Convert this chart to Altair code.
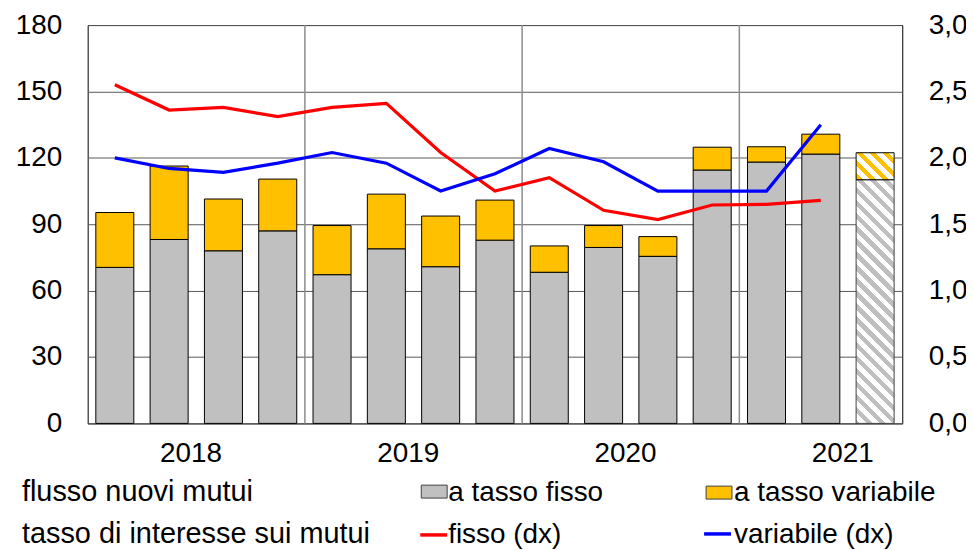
import math
import altair as alt
import pandas as pd

# ---------------- data ----------------
quarters = ["2018Q1", "2018Q2", "2018Q3", "2018Q4",
            "2019Q1", "2019Q2", "2019Q3", "2019Q4",
            "2020Q1", "2020Q2", "2020Q3", "2020Q4",
            "2021Q1", "2021Q2", "2021Q3"]
# flusso nuovi mutui (left axis)
flow_fisso = [70.5, 83.1, 78.0, 87.0, 67.2, 78.9, 70.8, 82.8, 68.3, 79.5, 75.5, 114.5, 118.1, 121.7, 110.1]
flow_variabile = [24.8, 33.2, 23.4, 23.4, 22.2, 24.7, 22.9, 18.1, 11.9, 9.9, 8.9, 10.3, 6.9, 9.0, 12.2]
# last quarter is an estimate (hatched)
estimate_quarters = ["2021Q3"]
# tasso di interesse (right axis)
rate_quarters = quarters[:14]
rate_fisso = [2.55, 2.36, 2.38, 2.31, 2.38, 2.41, 2.04, 1.75, 1.85, 1.605, 1.535, 1.645, 1.65, 1.68]
rate_variabile = [2.00, 1.92, 1.89, 1.96, 2.04, 1.96, 1.75, 1.88, 2.07, 1.97, 1.75, 1.75, 1.75, 2.25]
year_label_quarters = ["2018Q2", "2019Q2", "2020Q2", "2021Q2"]
year_start_quarters = ["2019Q1", "2020Q1", "2021Q1"]
left_ticks = [0, 30, 60, 90, 120, 150, 180]
right_ticks = [0, 0.5, 1.0, 1.5, 2.0, 2.5, 3.0]

# ---------------- layout / style ----------------
W, H = 818, 400
FONT = "Liberation Sans"
FS = 28
GRAY, ORANGE, RED, BLUE = "#C0C0C0", "#FFC000", "#FF0000", "#0000FF"
P_IN, P_OUT = 0.3, 0.15
n = len(quarters)
step = W / (n - P_IN + 2 * P_OUT)
bw = step * (1 - P_IN)
LMAX, RMAX = 180, 3.0

flows = pd.DataFrame({"q": quarters, "fisso": flow_fisso, "variabile": flow_variabile})
flows["totale"] = flows["fisso"] + flows["variabile"]
obs = flows[~flows["q"].isin(estimate_quarters)]
est = flows[flows["q"].isin(estimate_quarters)]
rates = pd.DataFrame({"q": rate_quarters, "fisso": rate_fisso, "variabile": rate_variabile})
years_df = pd.DataFrame({"q": year_start_quarters})


def hatch(color, w, h, period=13.0):
    """Diagonal stripes (top-left to bottom-right) as a hard-stop gradient."""
    half = period / 2
    lam = (w + h) / (w * w + h * h)
    m = math.floor(-h / half)
    cur = color if m % 2 == 0 else "white"
    stops = [alt.GradientStop(color=cur, offset=0)]
    m += 1
    while m * half < w:
        t = (m * half + h) / (w + h)
        stops.append(alt.GradientStop(color=cur, offset=t))
        cur = "white" if cur == color else color
        stops.append(alt.GradientStop(color=cur, offset=t))
        m += 1
    stops.append(alt.GradientStop(color=cur, offset=1))
    return alt.LinearGradient(gradient="linear", stops=stops,
                              x1=0, y1=1, x2=lam * w, y2=1 - lam * h)


xscale = alt.Scale(domain=quarters, paddingInner=P_IN, paddingOuter=P_OUT)
xaxis = alt.Axis(values=year_label_quarters, labelExpr="substring(datum.label, 0, 4)",
                 ticks=False, tickSize=0, domain=False, grid=False, labelAngle=0,
                 labelBaseline="alphabetic", labelPadding=38, labelOffset=22,
                 labelFont=FONT, labelFontSize=FS, labelColor="black")
X = alt.X("q:N", scale=xscale, axis=xaxis, title=None)

laxis = alt.Axis(values=left_ticks, grid=True, gridColor="#595959", gridWidth=1,
                 ticks=False, tickSize=0, domain=False, labelPadding=26,
                 labelFont=FONT, labelFontSize=FS, labelColor="black", labelBaseline="middle")
lscale = alt.Scale(domain=[0, LMAX], nice=False)
raxis = alt.Axis(values=right_ticks, orient="right", grid=False, ticks=False, tickSize=0,
                 domain=False, labelPadding=26, labelFont=FONT, labelFontSize=FS,
                 labelColor="black", labelBaseline="middle",
                 labelExpr="replace(format(datum.value, '.1f'), '.', ',')")
rscale = alt.Scale(domain=[0, RMAX], nice=False)

rules = alt.Chart(years_df).mark_rule(color="#8C8C8C", strokeWidth=1.5, xOffset=-step * P_OUT).encode(
    x=alt.X("q:N", scale=xscale, axis=xaxis, title=None, bandPosition=0)
)

bar_gray = alt.Chart(obs).mark_bar(fill=GRAY, stroke="black", strokeWidth=1).encode(
    x=X, y=alt.Y("fisso:Q", scale=lscale, axis=laxis, title=None)
)
bar_orange = alt.Chart(obs).mark_bar(fill=ORANGE, stroke="black", strokeWidth=1).encode(
    x=X, y=alt.Y("fisso:Q", scale=lscale, axis=laxis, title=None), y2="totale:Q"
)
e = est.iloc[0]
h_gray = e["fisso"] * H / LMAX
h_or = e["variabile"] * H / LMAX
bar_gray_est = alt.Chart(est).mark_bar(fill=hatch("#BFBFBF", bw, h_gray), stroke="#404040", strokeWidth=1).encode(
    x=X, y=alt.Y("fisso:Q", scale=lscale, axis=laxis, title=None)
)
bar_or_est = alt.Chart(est).mark_bar(fill=hatch(ORANGE, bw, h_or), stroke="black", strokeWidth=1).encode(
    x=X, y=alt.Y("fisso:Q", scale=lscale, axis=laxis, title=None), y2="totale:Q"
)
bars = alt.layer(bar_gray, bar_orange, bar_gray_est, bar_or_est)

line_red = alt.Chart(rates).mark_line(color=RED, strokeWidth=3.2).encode(
    x=X, y=alt.Y("fisso:Q", scale=rscale, axis=raxis, title=None)
)
line_blue = alt.Chart(rates).mark_line(color=BLUE, strokeWidth=3.2).encode(
    x=X, y=alt.Y("variabile:Q", scale=rscale, axis=raxis, title=None)
)
lines = alt.layer(line_red, line_blue)


# ---------------- legend (manual) ----------------
def ltext(label, x, y, fs=FS):
    return alt.Chart(pd.DataFrame({"t": [label]})).mark_text(
        align="left", baseline="alphabetic", font=FONT, fontSize=fs, color="black"
    ).encode(text="t:N", x=alt.value(x), y=alt.value(y))


def lrect(color, x, y):
    return alt.Chart(pd.DataFrame({"t": [0]})).mark_rect(fill=color, stroke="#404040", strokeWidth=1).encode(
        x=alt.value(x), x2=alt.value(x + 26), y=alt.value(y), y2=alt.value(y + 13))


def lline(color, x, y):
    return alt.Chart(pd.DataFrame({"t": [0]})).mark_rule(color=color, strokeWidth=3.5).encode(
        x=alt.value(x), x2=alt.value(x + 27), y=alt.value(y))


R1, R2 = 478, 520
legend = [
    ltext("flusso nuovi mutui", -66, R1, 29),
    lrect(GRAY, 335, 462), ltext("a tasso fisso", 362, R1),
    lrect(ORANGE, 621, 463), ltext("a tasso variabile", 649, R1),
    ltext("tasso di interesse sui mutui", -66, R2, 29),
    lline(RED, 334, 512), ltext("fisso (dx)", 362, R2),
    lline(BLUE, 619, 511), ltext("variabile (dx)", 649, R2),
]

chart = alt.layer(rules, bars, lines, *legend).resolve_scale(y="independent").properties(
    width=W, height=H,
    autosize=alt.AutoSizeParams(type="none"),
    padding={"left": 80, "top": 16, "right": 64, "bottom": 126},
).configure_view(stroke="black", strokeWidth=1)

chart.save("out.html", embed_options={"renderer": "svg", "actions": False})
